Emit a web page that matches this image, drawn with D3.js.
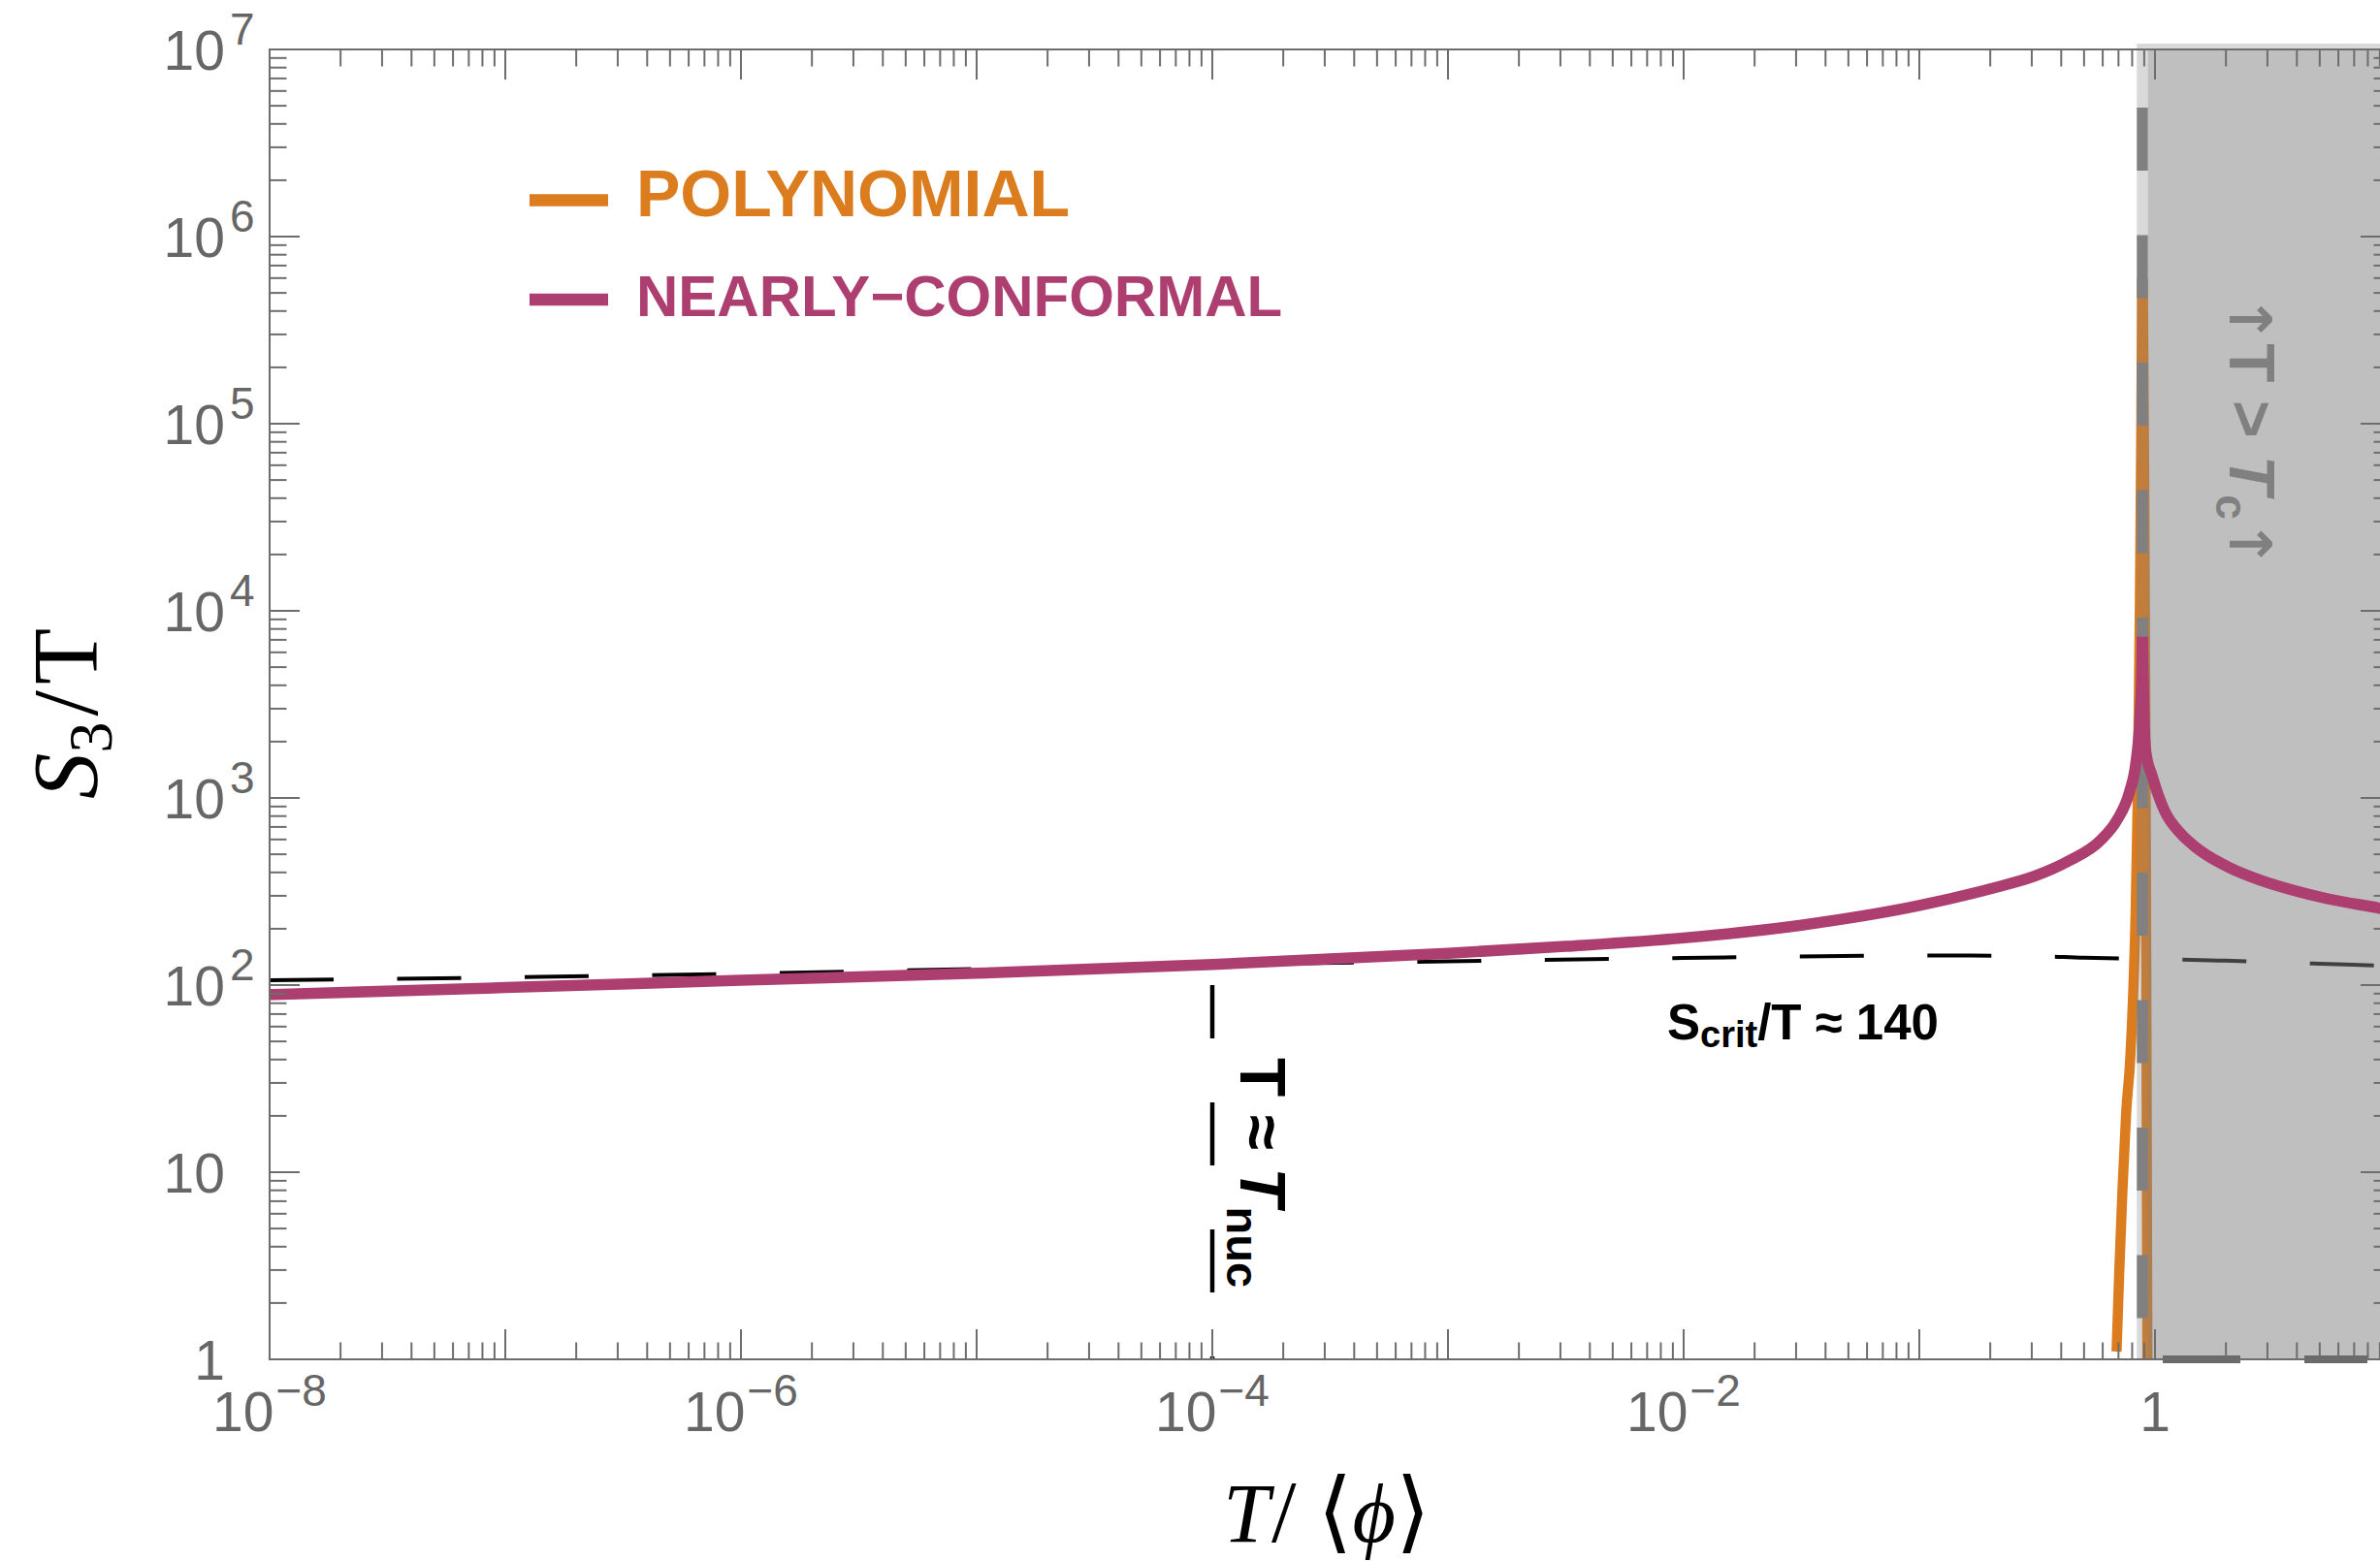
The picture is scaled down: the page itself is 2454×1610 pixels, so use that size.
<!DOCTYPE html>
<html><head><meta charset="utf-8">
<script src="https://cdn.jsdelivr.net/npm/d3@7"></script>
<style>body{margin:0;background:#fff} svg{display:block}</style>
</head><body>
<svg id="chart" width="2454" height="1610"></svg>
<script>
// ---------------- data ----------------
// nearly-conformal: branch below Tc and branch above Tc
const pinkLeftT = [1e-8, 1e-7, 1e-6, 1e-5, 1e-4, 1e-3, 0.00316, 0.01, 0.0316, 0.1, 0.2, 0.312, 0.428, 0.587, 0.687, 0.78, 0.83, 0.862, 0.879, 0.884];
const pinkLeftS = [89, 97, 106, 115.6, 128.8, 147.9, 161, 178.6, 208.9, 266, 327, 384, 459, 594, 755, 1080, 1545, 2590, 4700, 7250];
const pinkRightT = [0.884, 0.899, 0.915, 0.972, 1.10, 1.29, 1.51, 2.07, 2.84, 3.90, 5.35, 8.91, 10];
const pinkRightS = [7250, 2590, 1750, 1315, 849, 643, 538, 424, 361, 320, 290, 258, 251];

// polynomial: rising branch and falling branch
const orangeLeftT = [0.687, 0.705, 0.727, 0.755, 0.785, 0.808, 0.828, 0.845, 0.862, 0.875, 0.882];
const orangeLeftS = [1.1, 2.9, 7.8, 21, 40, 90, 250, 1000, 1e4, 1e5, 6e5];
const orangeRightT = [0.888, 0.9, 0.91, 0.918, 0.924, 0.93];
const orangeRightS = [6e5, 5e4, 3000, 150, 8, 0.5];

const critT = [1e-8, 1e-7, 1e-6, 1e-5, 1e-4, 1e-3, 1e-2, 0.1, 0.3, 0.5, 1, 2, 5, 10];
const critS = [106, 110, 115, 122, 128.5, 134, 139.5, 144, 143, 140, 137.5, 135, 130, 126.5];

const Tc = 0.884;
const Tnuc = 1e-4;
const TnucTop = 100;

const xTickVals = [1e-8, 1e-6, 1e-4, 1e-2, 1];
const xTickBase = ["10", "10", "10", "10", "1"];
const xTickExp  = ["\u22128", "\u22126", "\u22124", "\u22122", ""];
const yTickVals = [1, 10, 1e2, 1e3, 1e4, 1e5, 1e6, 1e7];
const yTickBase = ["1", "10", "10", "10", "10", "10", "10", "10"];
const yTickExp  = ["", "", "2", "3", "4", "5", "6", "7"];

const legendNames = ["POLYNOMIAL", "NEARLY\u2212CONFORMAL"];

// ---------------- setup ----------------
const ORANGE = "#DB7C1E", PINK = "#AD3E70", AXIS = "#6d6d6d", LBL = "#666666";
const M = {left: 278, right: 2465, top: 51, bottom: 1402};
const x = d3.scaleLog().domain([1e-8, 10]).range([M.left, M.right]);
const y = d3.scaleLog().domain([1, 1e7]).range([M.bottom, M.top]);
const svg = d3.select("#chart");
const SANS = "'Liberation Sans', Arial, Helvetica, sans-serif";
const SERIF = "'Liberation Serif', 'DejaVu Serif', serif";

svg.append("defs").append("clipPath").attr("id", "clip")
  .append("rect").attr("x", M.left).attr("y", M.top)
  .attr("width", M.right - M.left).attr("height", M.bottom - M.top);

// layers in drawing order
const under = svg.append("g").attr("clip-path", "url(#clip)");
const edge = svg.append("g");
const over = svg.append("g").attr("clip-path", "url(#clip)");
const axisLayer = svg.append("g");
const textLayer = svg.append("g");

const zip = (a, b) => a.map((t, i) => [t, b[i]]);
const line = d3.line().x(d => x(d[0])).y(d => y(d[1])).curve(d3.curveMonotoneX);

// critical dashed line
under.append("path").attr("d", line(zip(critT, critS)))
  .attr("fill", "none").attr("stroke", "#000").attr("stroke-width", 4)
  .attr("stroke-dasharray", "66,65.5");

// Tnuc vertical dashed line
under.append("line")
  .attr("x1", x(Tnuc)).attr("x2", x(Tnuc)).attr("y1", y(TnucTop)).attr("y2", y(1))
  .attr("stroke", "#000").attr("stroke-width", 4.5)
  .attr("stroke-dasharray", "65,66").attr("stroke-dashoffset", 10);

// orange curve (two branches)
[[orangeLeftT, orangeLeftS], [orangeRightT, orangeRightS]].forEach(([t, s]) => {
  under.append("path").attr("d", line(zip(t, s)))
    .attr("fill", "none").attr("stroke", ORANGE).attr("stroke-width", 10.5);
});

// shaded region T > Tc
const xTc = x(Tc);
under.append("rect").attr("x", xTc + 5.7).attr("y", M.top).attr("width", M.right - xTc).attr("height", M.bottom - M.top)
  .attr("fill", "#808080").attr("fill-opacity", 0.5);
edge.append("rect").attr("x", xTc - 5.7).attr("y", M.top - 6).attr("width", 11.4).attr("height", M.bottom - M.top + 6)
  .attr("fill", "#808080").attr("fill-opacity", 0.3);
edge.append("rect").attr("x", xTc + 5.7).attr("y", M.top - 6).attr("width", M.right - xTc).attr("height", 6)
  .attr("fill", "#808080").attr("fill-opacity", 0.3);
edge.append("line").attr("x1", xTc).attr("x2", xTc).attr("y1", M.top).attr("y2", M.bottom)
  .attr("stroke", "#808080").attr("stroke-width", 11.4)
  .attr("stroke-dasharray", "65,66.5").attr("stroke-dashoffset", 71.5);
edge.append("line").attr("x1", xTc).attr("x2", M.right).attr("y1", M.bottom).attr("y2", M.bottom)
  .attr("stroke", "#6a6a6a").attr("stroke-width", 8)
  .attr("stroke-dasharray", "80,66,65,66").attr("stroke-dashoffset", 256);

// pink curve (two branches meeting at the cusp)
[[pinkLeftT, pinkLeftS], [pinkRightT, pinkRightS]].forEach(([t, s]) => {
  over.append("path").attr("d", line(zip(t, s)))
    .attr("fill", "none").attr("stroke", PINK).attr("stroke-width", 11.5);
});

// ---------------- frame & ticks ----------------
axisLayer.append("rect").attr("x", M.left).attr("y", M.top)
  .attr("width", M.right - M.left).attr("height", M.bottom - M.top)
  .attr("fill", "none").attr("stroke", AXIS).attr("stroke-width", 2);

const ticksX = [], ticksY = [];
for (let e = -8; e <= 0; e++) for (let m = 1; m <= 9; m++) ticksX.push({v: m * Math.pow(10, e), major: m === 1});
ticksX.push({v: 10, major: true});
for (let e = 0; e <= 6; e++) for (let m = 1; m <= 9; m++) ticksY.push({v: m * Math.pow(10, e), major: m === 1});
ticksY.push({v: 1e7, major: true});
const len = d => d.major ? 31 : 17.5;
const tg = axisLayer.append("g").attr("stroke", AXIS).attr("stroke-width", 2);
tg.selectAll(".tb").data(ticksX).join("line")
  .attr("x1", d => x(d.v)).attr("x2", d => x(d.v)).attr("y1", M.bottom).attr("y2", d => M.bottom - len(d));
tg.selectAll(".tt").data(ticksX).join("line")
  .attr("x1", d => x(d.v)).attr("x2", d => x(d.v)).attr("y1", M.top).attr("y2", d => M.top + len(d));
tg.selectAll(".tl").data(ticksY).join("line")
  .attr("y1", d => y(d.v)).attr("y2", d => y(d.v)).attr("x1", M.left).attr("x2", d => M.left + len(d));
tg.selectAll(".tr").data(ticksY).join("line")
  .attr("y1", d => y(d.v)).attr("y2", d => y(d.v)).attr("x1", M.right).attr("x2", d => M.right - len(d));

// tick labels
const yl = textLayer.append("g").attr("font-family", SANS).attr("fill", LBL);
yTickVals.forEach((v, i) => {
  yl.append("text").attr("x", 232).attr("y", y(v) + 21).attr("text-anchor", "end")
    .attr("font-size", 57).text(yTickBase[i]);
  if (yTickExp[i]) yl.append("text").attr("x", 237).attr("y", y(v) - 5)
    .attr("font-size", 46).text(yTickExp[i]);
});
const xl = textLayer.append("g").attr("font-family", SANS).attr("fill", LBL);
xTickVals.forEach((v, i) => {
  const t = xl.append("text").attr("x", x(v)).attr("y", 1476).attr("text-anchor", "middle").attr("font-size", 57);
  t.append("tspan").text(xTickBase[i]);
  if (xTickExp[i]) t.append("tspan").attr("dx", 2).attr("dy", -26).attr("font-size", 46).text(xTickExp[i]);
});

// ---------------- axis titles ----------------
const yt = textLayer.append("text").attr("transform", "translate(100,736) rotate(-90)")
  .attr("text-anchor", "middle").attr("font-family", SERIF).attr("font-size", 95).attr("fill", "#000");
yt.append("tspan").attr("font-style", "italic").text("S");
yt.append("tspan").attr("font-size", 64).attr("dy", 15).text("3");
yt.append("tspan").attr("dy", -15).attr("dx", 6).text("/");
yt.append("tspan").attr("dx", 6).text("T");

const xt = textLayer.append("text").attr("x", 1368).attr("y", 1590)
  .attr("text-anchor", "middle").attr("font-family", SERIF).attr("font-size", 86).attr("fill", "#000");
xt.append("tspan").attr("font-style", "italic").text("T");
xt.append("tspan").attr("font-size", 92).attr("dx", 2).text("/");
xt.append("tspan").attr("font-size", 92).attr("dx", 22).text("\u27E8");
xt.append("tspan").attr("font-size", 86).attr("font-style", "italic").text("\u03D5");
xt.append("tspan").attr("font-size", 92).text("\u27E9");

// ---------------- annotations ----------------
const sc = textLayer.append("text").attr("x", 1719).attr("y", 1071.7)
  .attr("font-family", SANS).attr("font-weight", "bold").attr("font-size", 51).attr("fill", "#000");
sc.append("tspan").text("S");
sc.append("tspan").attr("font-size", 38).attr("dy", 8.5).text("crit");
sc.append("tspan").attr("dy", -8.5).text("/T \u2248 140");

const tn = textLayer.append("text").attr("transform", "translate(1279,1091) rotate(90)")
  .attr("font-family", SANS).attr("font-weight", "bold").attr("font-size", 66).attr("fill", "#000");
tn.append("tspan").text("T \u2248 ");
tn.append("tspan").attr("font-style", "italic").text("T");
tn.append("tspan").attr("font-size", 47).attr("dy", 14).text("nuc");

const ARROW = "'DejaVu Sans', sans-serif";
const tcl = textLayer.append("text").attr("transform", "translate(2299,304) rotate(90)")
  .attr("font-family", SANS).attr("font-weight", "bold").attr("font-size", 66).attr("fill", "#808080");
tcl.append("tspan").attr("font-family", ARROW).attr("font-size", 60).text("\u2191");
tcl.append("tspan").text("T > ");
tcl.append("tspan").attr("font-style", "italic").text("T");
tcl.append("tspan").attr("font-size", 46).attr("dy", 14).text("c");
tcl.append("tspan").attr("dy", -14).attr("font-family", ARROW).attr("font-size", 60).text("\u2191");

// ---------------- legend ----------------
const lg = textLayer.append("g");
const legendColors = [ORANGE, PINK];
const legendY = [206.5, 309];
const legendBase = [223.3, 325.7];
const legendSize = [68, 60];
legendNames.forEach((n, i) => {
  lg.append("line").attr("x1", 546).attr("x2", 627).attr("y1", legendY[i]).attr("y2", legendY[i])
    .attr("stroke", legendColors[i]).attr("stroke-width", 12.3);
  lg.append("text").attr("x", 656).attr("y", legendBase[i]).attr("font-family", SANS)
    .attr("font-weight", "bold").attr("font-size", legendSize[i]).attr("fill", legendColors[i]).text(n);
});
</script>
</body></html>
